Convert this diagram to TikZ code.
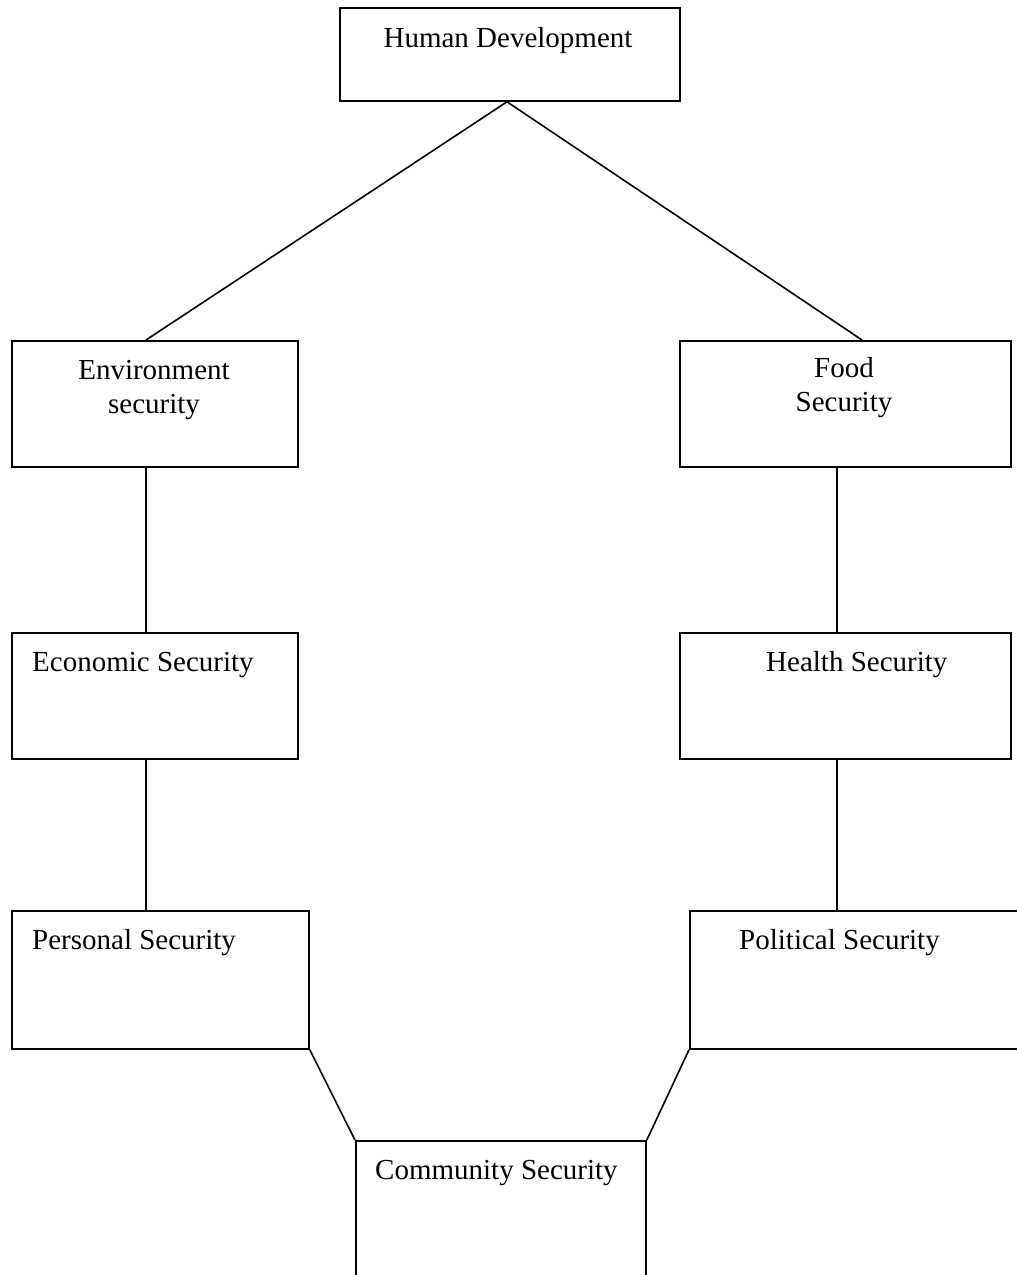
\documentclass[tikz,border=0pt]{standalone}
\usepackage{fontspec}
\setmainfont{Liberation Serif}
\usetikzlibrary{calc}
\begin{document}
\begin{tikzpicture}[x=1pt,y=-1pt,
  box/.style={draw=black, line width=1.8pt, fill=none, inner sep=0pt, anchor=north west},
  txt/.style={inner sep=0pt, font=\fontsize{29}{35}\selectfont},
  link/.style={draw=black, line width=1.6pt}]
\useasboundingbox (0,0) rectangle (1017,1275);
% boxes
\node[box, minimum width=340pt, minimum height=93pt] (hd) at (339,7) {};
\node[box, minimum width=286pt, minimum height=126pt] (env) at (11,340) {};
\node[box, minimum width=331pt, minimum height=126pt] (food) at (679,340) {};
\node[box, minimum width=286pt, minimum height=126pt] (eco) at (11,632) {};
\node[box, minimum width=331pt, minimum height=126pt] (hea) at (679,632) {};
\node[box, minimum width=297pt, minimum height=138pt] (per) at (11,910) {};
\node[box, minimum width=345pt, minimum height=138pt] (pol) at (689,910) {};
\node[box, minimum width=290pt, minimum height=150pt] (com) at (355,1140) {};
% texts
\node[txt, anchor=base] (hdt) at (508,47) {Human Development};
\node[txt, anchor=base] (envt1) at (154,379) {Environment};
\node[txt, anchor=base] (envt2) at (154,413) {security};
\node[txt, anchor=base] (foodt1) at (844,377) {Food};
\node[txt, anchor=base] (foodt2) at (844,411) {Security};
\node[txt, anchor=base west] (ecot) at (32,671) {Economic Security};
\node[txt, anchor=base west] (heat) at (766,671) {Health Security};
\node[txt, anchor=base west] (pert) at (32,949) {Personal Security};
\node[txt, anchor=base west] (polt) at (739,949) {Political Security};
\node[txt, anchor=base west] (comt) at (375,1179) {Community Security};
% connectors
\draw[link] ($(hd.south west)+(168,0)$) -- ($(env.north west)+(135,0)$);
\draw[link] ($(hd.south west)+(168,0)$) -- ($(food.north west)+(183,0)$);
\draw[link] ($(env.south west)+(135,0)$) -- ($(eco.north west)+(135,0)$);
\draw[link] ($(food.south west)+(158,0)$) -- ($(hea.north west)+(158,0)$);
\draw[link] ($(eco.south west)+(135,0)$) -- ($(per.north west)+(135,0)$);
\draw[link] ($(hea.south west)+(158,0)$) -- ($(pol.north west)+(148,0)$);
\draw[link] (per.south east) -- (com.north west);
\draw[link] (pol.south west) -- (com.north east);
\end{tikzpicture}
\end{document}
